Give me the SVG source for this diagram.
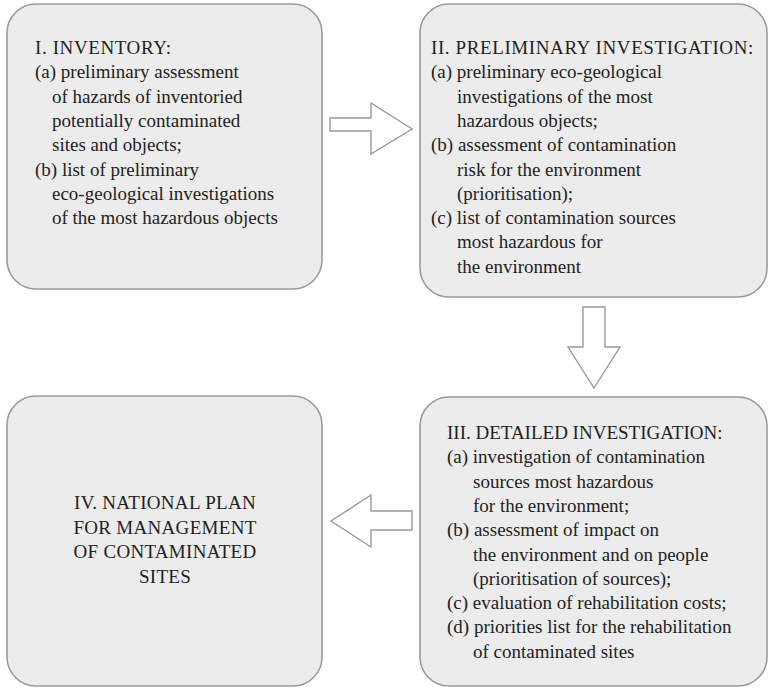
<svg xmlns="http://www.w3.org/2000/svg" width="768" height="688" viewBox="0 0 768 688">
<style>
.box{fill:#ececec;stroke:#9a9a9a;stroke-width:1.6}
.arr{fill:#ffffff;stroke:#9a9a9a;stroke-width:1.4;stroke-linejoin:miter}
text{font-family:"Liberation Serif","Times New Roman","DejaVu Serif",serif;font-size:19px;fill:#222}
.t{letter-spacing:0.6px}
.c{text-anchor:middle;letter-spacing:0.3px}
</style>
<rect width="768" height="688" fill="#ffffff"/>
<g id="node-inventory">
<rect class="box" x="7" y="4" width="315" height="285" rx="29" ry="29"/>
<text class="t" x="35" y="54">I. INVENTORY:</text>
<text x="35" y="78.3">(a) preliminary assessment</text>
<text x="52" y="102.6">of hazards of inventoried</text>
<text x="52" y="126.9">potentially contaminated</text>
<text x="52" y="151.2">sites and objects;</text>
<text x="35" y="175.5">(b) list of preliminary</text>
<text x="52" y="199.8">eco-geological investigations</text>
<text x="52" y="224.1">of the most hazardous objects</text>
</g>
<g id="node-preliminary">
<rect class="box" x="420" y="4" width="347" height="293" rx="29" ry="29"/>
<text class="t" x="431" y="54">II. PRELIMINARY INVESTIGATION:</text>
<text x="431" y="78.3">(a) preliminary eco-geological</text>
<text x="457" y="102.6">investigations of the most</text>
<text x="457" y="126.9">hazardous objects;</text>
<text x="431" y="151.2">(b) assessment of contamination</text>
<text x="457" y="175.5">risk for the environment</text>
<text x="457" y="199.8">(prioritisation);</text>
<text x="431" y="224.1">(c) list of contamination sources</text>
<text x="457" y="248.4">most hazardous for</text>
<text x="457" y="272.7">the environment</text>
</g>
<g id="node-detailed">
<rect class="box" x="420" y="397" width="347" height="289" rx="29" ry="29"/>
<text x="447" y="439">III. DETAILED INVESTIGATION:</text>
<text x="447" y="463.3">(a) investigation of contamination</text>
<text x="473" y="487.6">sources most hazardous</text>
<text x="473" y="511.9">for the environment;</text>
<text x="447" y="536.2">(b) assessment of impact on</text>
<text x="473" y="560.5">the environment and on people</text>
<text x="473" y="584.8">(prioritisation of sources);</text>
<text x="447" y="609.1">(c) evaluation of rehabilitation costs;</text>
<text x="447" y="633.4">(d) priorities list for the rehabilitation</text>
<text x="473" y="657.7">of contaminated sites</text>
</g>
<g id="node-national">
<rect class="box" x="7" y="396" width="315" height="290" rx="29" ry="29"/>
<text class="c" x="165" y="509">IV. NATIONAL PLAN</text>
<text class="c" x="165" y="533.5">FOR MANAGEMENT</text>
<text class="c" x="165" y="558">OF CONTAMINATED</text>
<text class="c" x="165" y="582.5">SITES</text>
</g>
<g id="connectors">
<polygon class="arr" points="330,118 371,118 371,103 412,129 371,154 371,131 330,131"/>
<polygon class="arr" points="583,307 605,307 605,347 620,347 594,388 568,347 583,347"/>
<polygon class="arr" points="412,511 371,511 371,495 331,521 371,547 371,530 412,530"/>
</g>
</svg>
